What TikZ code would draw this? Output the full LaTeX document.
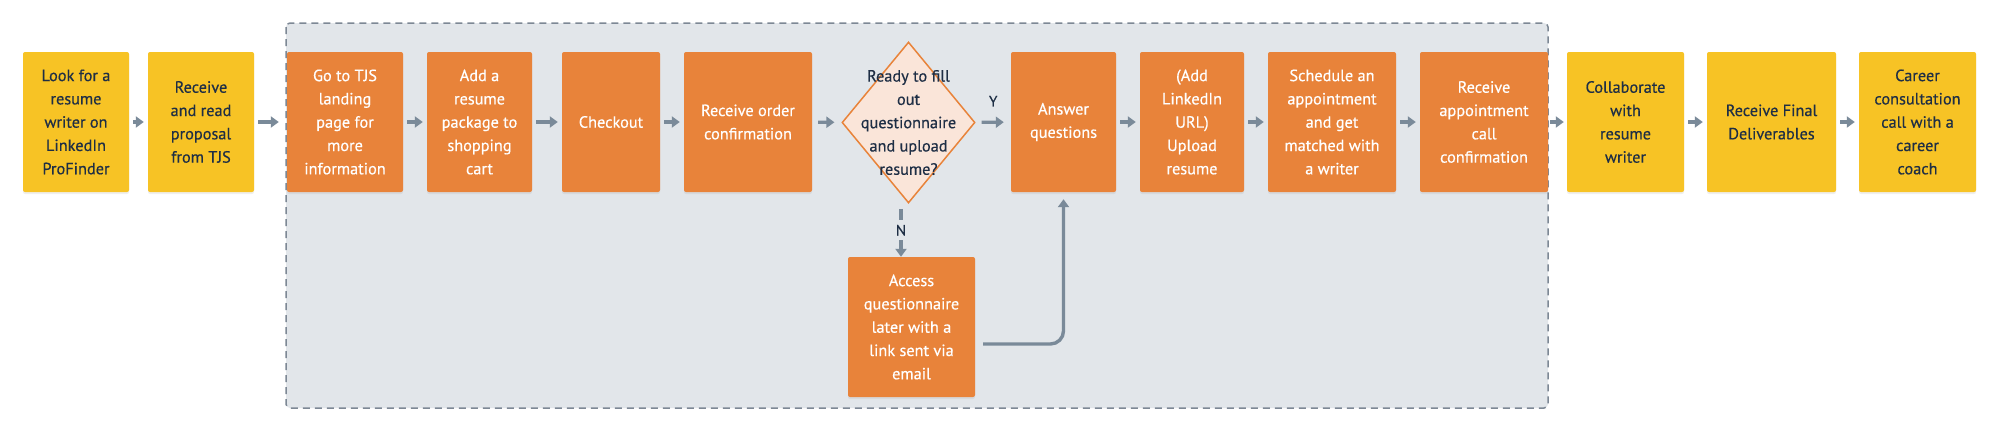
\documentclass[tikz,border=0pt]{standalone}
\usepackage{fontspec}
\setmainfont{PT Sans}
\newfontfamily\dinfont{PT Sans}[FakeBold=0.45]
\usetikzlibrary{arrows.meta,shapes.geometric,shadows}
\definecolor{yel}{HTML}{F7C325}
\definecolor{org}{HTML}{E8833A}
\definecolor{bgc}{HTML}{E2E6EA}
\definecolor{arr}{HTML}{7A8A99}
\definecolor{dsh}{HTML}{7D8895}
\definecolor{ink}{HTML}{1E2E45}
\definecolor{pch}{HTML}{FAE5D9}
\begin{document}
\begin{tikzpicture}[x=1pt,y=-1pt,
  txt/.style={font=\dinfont\fontsize{16.3}{23.3}\selectfont, align=center},
  box/.style={txt, rectangle, rounded corners=2pt, minimum height=140pt, inner sep=0pt,
    drop shadow={opacity=0.12, shadow xshift=0pt, shadow yshift=-2pt}},
  ybox/.style={box, fill=yel, text=ink},
  obox/.style={box, fill=org, text=white},
  flow/.style={draw=arr, line width=3.4pt, -{Triangle[width=11pt,length=8pt]}, shorten <=4pt, shorten >=4pt},
  lbl/.style={font=\dinfont\fontsize{15}{18}\selectfont, text=ink, inner sep=4.5pt},
]
\useasboundingbox (0,0) rectangle (1999,432);
\fill[white] (0,0) rectangle (1999,432);
% container
\draw[fill=bgc, draw=dsh, line width=1.5pt, dash pattern=on 7pt off 5pt, rounded corners=4pt]
  (286,23) rectangle (1548,408);

\node[ybox, minimum width=106pt] (b1) at (76,122) {Look for a\\resume\\writer on\\LinkedIn\\ProFinder};
\node[ybox, minimum width=106pt] (b2) at (201,122) {Receive\\and read\\proposal\\from TJS};
\node[obox, minimum width=116pt] (b3) at (345,122) {Go to TJS\\landing\\page for\\more\\information};
\node[obox, minimum width=105pt] (b4) at (479.5,122) {Add a\\resume\\package to\\shopping\\cart};
\node[obox, minimum width=98pt] (b5) at (611,122) {Checkout};
\node[obox, minimum width=128pt] (b6) at (748,122) {Receive order\\confirmation};
\node[diamond, draw=org, fill=pch, line width=1.5pt, minimum width=133pt, minimum height=161pt, inner sep=0pt] (dec) at (908.5,122.5) {};
\node[txt, text=ink] (dect) at (dec.center) {Ready to fill\\out\\questionnaire\\and upload\\resume?};
\node[obox, minimum width=105pt] (b7) at (1063.5,122) {Answer\\questions};
\node[obox, minimum width=104pt] (b8) at (1192,122) {(Add\\LinkedIn\\URL)\\Upload\\resume};
\node[obox, minimum width=128pt] (b9) at (1332,122) {Schedule an\\appointment\\and get\\matched with\\a writer};
\node[obox, minimum width=128pt] (b10) at (1484,122) {Receive\\appointment\\call\\confirmation};
\node[ybox, minimum width=117pt] (b11) at (1625.5,122) {Collaborate\\with\\resume\\writer};
\node[ybox, minimum width=129pt] (b12) at (1771.5,122) {Receive Final\\Deliverables};
\node[ybox, minimum width=117pt] (b13) at (1917.5,122) {Career\\consultation\\call with a\\career\\coach};
\node[obox, minimum width=127pt] (acc) at (911.5,327) {Access\\questionnaire\\later with a\\link sent via\\email};

\draw[flow] (b1) -- (b2);
\draw[flow, shorten >=8pt] (b2) -- (b3);
\draw[flow] (b3) -- (b4);
\draw[flow] (b4) -- (b5);
\draw[flow] (b5) -- (b6);
\draw[flow, shorten <=6pt, shorten >=7pt] (b6) -- (dec);
\draw[flow, shorten <=6pt, shorten >=7pt] (dec) -- node[lbl, midway, yshift=21pt] {Y} (b7);
\draw[flow] (b7) -- (b8);
\draw[flow] (b8) -- (b9);
\draw[flow] (b9) -- (b10);
\draw[flow, shorten <=2pt, shorten >=3pt] (b10) -- (b11);
\draw[flow] (b11) -- (b12);
\draw[flow] (b12) -- (b13);
\draw[flow, shorten <=5pt, shorten >=0pt] ([xshift=-7.5pt]dec.south) -- node[lbl, midway, fill=bgc] {N} ([xshift=-10.5pt]acc.north);
\draw[flow, rounded corners=13pt, shorten <=0pt, shorten >=7pt] ([xshift=8pt,yshift=-17pt]acc.east) -| (b7.south);
\end{tikzpicture}
\end{document}
